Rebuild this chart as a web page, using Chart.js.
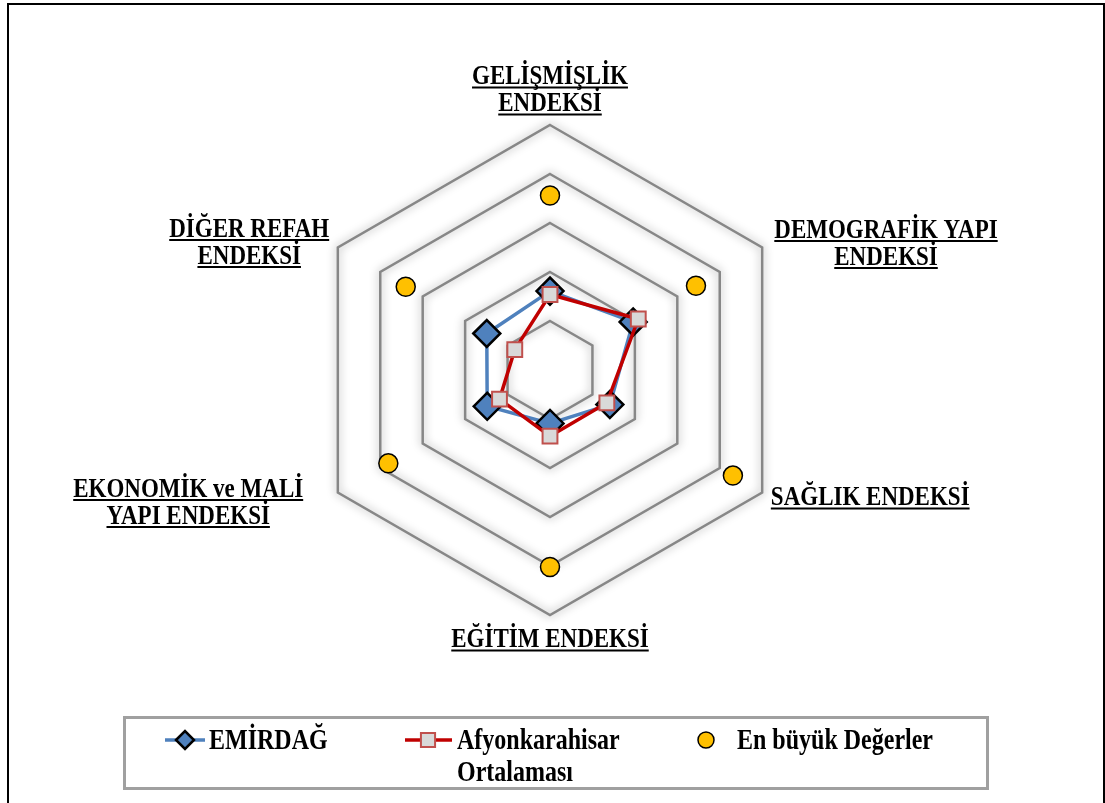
<!DOCTYPE html>
<html lang="tr">
<head>
    <meta charset="UTF-8">
    <title>Endeksler</title>
    <style>
        body { margin: 0; background: #fff; }
        #frame { position: absolute; left: 7px; top: 3px; width: 1094px; height: 850px; border: 2px solid #000; }
        canvas { position: absolute; left: 0; top: 0; }
    </style>
</head>
<body>
    <div id="frame"></div>
    <canvas id="myChart" width="1105" height="803"></canvas>

    <script src="https://cdn.jsdelivr.net/npm/chart.js"></script>

    <script>
        // axis names (one entry per spoke, split into lines)
        const axisLabels = [
            ['GELİŞMİŞLİK', 'ENDEKSİ'],
            ['DEMOGRAFİK YAPI', 'ENDEKSİ'],
            ['SAĞLIK ENDEKSİ'],
            ['EĞİTİM ENDEKSİ'],
            ['EKONOMİK ve MALİ', 'YAPI ENDEKSİ'],
            ['DİĞER REFAH', 'ENDEKSİ']
        ];
        const emirdag = [1.61, 1.96, 1.41, 1.09, 1.48, 1.49];
        const afyon = [1.54, 2.08, 1.34, 1.35, 1.19, 0.83];
        const enBuyuk = [3.56, 3.44, 4.31, 4.02, 3.81, 3.40];
        const seriesNames = ['EMİRDAĞ', 'Afyonkarahisar Ortalaması', 'En büyük Değerler'];

        const FONT = '"Liberation Serif", "Times New Roman", serif';

        // text looks a bit tall in the original, stretch it vertically
        function tallText(ctx, txt, x, y, sy) {
            ctx.save();
            ctx.translate(x, y);
            ctx.scale(1, sy);
            ctx.fillText(txt, 0, 0);
            ctx.restore();
        }

        // soft grey glow around the grid hexagons
        const glow = {
            id: 'glow',
            beforeDraw(chart) {
                chart.ctx.shadowColor = 'rgba(0,0,0,0.4)';
                chart.ctx.shadowBlur = 10;
            },
            beforeDatasetsDraw(chart) {
                chart.ctx.shadowColor = 'rgba(0,0,0,0)';
                chart.ctx.shadowBlur = 0;
            }
        };

        // underlined bold spoke labels
        const spokeLabels = {
            id: 'spokeLabels',
            afterDraw(chart) {
                const ctx = chart.ctx;
                const r = chart.scales.r;
                const pads = [9, 14, 10, 12, 40, 10];
                const shift = [0, 3, 0, 0, -10, 0];
                const lh = 27;
                ctx.save();
                ctx.font = 'bold 23px ' + FONT;
                ctx.fillStyle = '#000';
                ctx.textAlign = 'center';
                ctx.textBaseline = 'alphabetic';
                axisLabels.forEach((lines, i) => {
                    const p = r.getPointPosition(i, r.drawingArea + pads[i]);
                    const widths = lines.map(t => ctx.measureText(t).width);
                    const w = Math.max(...widths);
                    const h = lines.length * lh;
                    let cx, top;
                    if (i === 0) { cx = p.x; top = p.y - h + 1; }
                    else if (i === 3) { cx = p.x; top = p.y - 1; }
                    else if (p.x > r.xCenter) { cx = p.x + w / 2; top = p.y - h / 2; }
                    else { cx = p.x - w / 2; top = p.y - h / 2; }
                    top += shift[i];
                    lines.forEach((t, k) => {
                        const y = top + 21 + lh * k;
                        tallText(ctx, t, cx, y, 1.18);
                        ctx.fillRect(cx - widths[k] / 2, y + 2.5, widths[k], 2);
                    });
                });
                ctx.restore();
            }
        };

        // boxed legend at the bottom
        const boxLegend = {
            id: 'boxLegend',
            afterDraw(chart) {
                const ctx = chart.ctx;
                const ds = chart.data.datasets;
                ctx.save();
                ctx.strokeStyle = '#a0a0a0';
                ctx.lineWidth = 3;
                ctx.strokeRect(124.5, 717.5, 863, 71);

                ctx.lineWidth = 3.5;
                ctx.strokeStyle = ds[0].borderColor;
                ctx.beginPath(); ctx.moveTo(165, 740); ctx.lineTo(205, 740); ctx.stroke();
                ctx.fillStyle = ds[0].pointBackgroundColor;
                ctx.strokeStyle = ds[0].pointBorderColor;
                ctx.lineWidth = 2.5;
                Chart.helpers.drawPoint(ctx, { pointStyle: 'rectRot', radius: 9, rotation: 0, borderWidth: 2.5 }, 185, 740);

                ctx.lineWidth = 3.5;
                ctx.strokeStyle = ds[1].borderColor;
                ctx.beginPath(); ctx.moveTo(405, 740); ctx.lineTo(452, 740); ctx.stroke();
                ctx.fillStyle = ds[1].pointBackgroundColor;
                ctx.strokeStyle = ds[1].pointBorderColor;
                ctx.lineWidth = 2;
                Chart.helpers.drawPoint(ctx, { pointStyle: 'rect', radius: 10, rotation: 0, borderWidth: 2 }, 428, 740);

                ctx.fillStyle = ds[2].pointBackgroundColor;
                ctx.strokeStyle = '#000';
                ctx.lineWidth = 1.5;
                Chart.helpers.drawPoint(ctx, { pointStyle: 'circle', radius: 8, rotation: 0, borderWidth: 1.5 }, 706, 740);

                ctx.fillStyle = '#000';
                ctx.font = 'bold 24px ' + FONT;
                ctx.textAlign = 'left';
                ctx.textBaseline = 'alphabetic';
                const parts = seriesNames[1].split(' ');
                tallText(ctx, seriesNames[0], 209, 749, 1.2);
                tallText(ctx, parts[0], 457, 749, 1.2);
                tallText(ctx, parts[1], 457, 781, 1.2);
                tallText(ctx, seriesNames[2], 737, 749, 1.2);
                ctx.restore();
            }
        };

        const ctx = document.getElementById('myChart');

        let radarChart = new Chart(ctx, {
            type: 'radar',
            data: {
                labels: axisLabels.map(l => l.join(' ')),
                datasets: [{
                    label: seriesNames[0],
                    data: emirdag,
                    borderColor: '#4f81bd',
                    backgroundColor: '#4f81bd',
                    borderWidth: 3.5,
                    fill: false,
                    pointStyle: 'rectRot',
                    pointRadius: 13.5,
                    pointBackgroundColor: '#4f81bd',
                    pointBorderColor: '#000',
                    pointBorderWidth: 2.5,
                    order: 2
                }, {
                    label: seriesNames[1],
                    data: afyon,
                    borderColor: '#c00000',
                    backgroundColor: '#c00000',
                    borderWidth: 3.5,
                    fill: false,
                    pointStyle: 'rect',
                    pointRadius: 10.5,
                    pointBackgroundColor: '#d9d9d9',
                    pointBorderColor: '#c0504d',
                    pointBorderWidth: 2,
                    order: 1
                }, {
                    label: seriesNames[2],
                    data: enBuyuk,
                    showLine: false,
                    borderColor: 'rgba(0,0,0,0)',
                    backgroundColor: 'rgba(0,0,0,0)',
                    fill: false,
                    pointStyle: 'circle',
                    pointRadius: 9.5,
                    pointBackgroundColor: '#ffc000',
                    pointBorderColor: '#000',
                    pointBorderWidth: 1.5,
                    order: 3
                }]
            },
            options: {
                responsive: false,
                animation: false,
                layout: { padding: { left: 305, right: 309, top: 125, bottom: 187 } },
                elements: { line: { tension: 0 } },
                scales: {
                    r: {
                        min: 0,
                        max: 5,
                        ticks: { display: false, stepSize: 1 },
                        grid: { color: '#878787', lineWidth: 2.5 },
                        angleLines: { display: false },
                        pointLabels: { display: false }
                    }
                },
                plugins: {
                    legend: { display: false },
                    tooltip: { enabled: false }
                }
            },
            plugins: [glow, spokeLabels, boxLegend]
        });
    </script>
</body>
</html>
